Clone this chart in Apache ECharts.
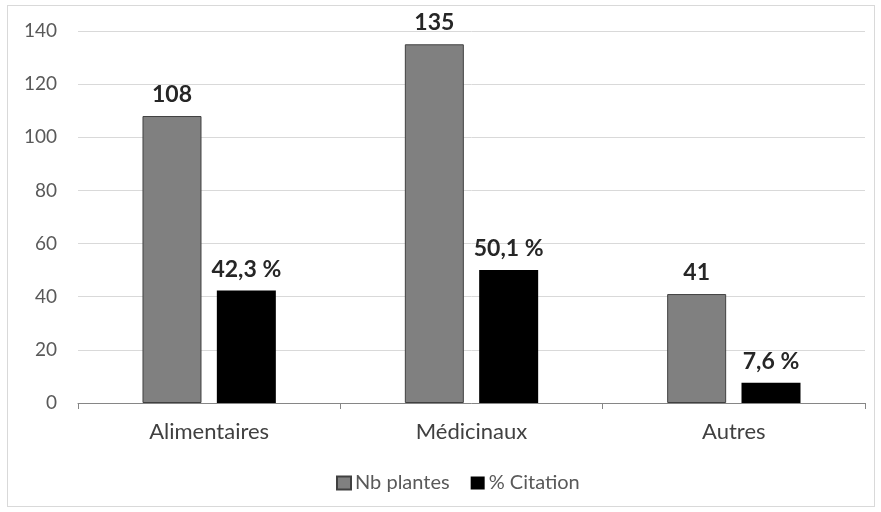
<!DOCTYPE html>
<html><head><meta charset="utf-8">
<script src="https://cdn.jsdelivr.net/npm/echarts@6/dist/echarts.min.js"></script>
<style>html,body{margin:0;padding:0;background:#fff}#c{width:881px;height:512px}
#frame{position:absolute;left:7px;top:5px;width:868px;height:502px;border:1px solid #d9d9d9;box-sizing:border-box;pointer-events:none}</style>
</head><body><div id="c"></div><div id="frame"></div>
<script>
const categories = ['Alimentaires', 'Médicinaux', 'Autres'];
const nbPlantes = [108, 135, 41];
const pctCitation = [42.3, 50.1, 7.6];
const yTicks = [0, 20, 40, 60, 80, 100, 120, 140];
const FONT = 'Lato';
const chart = echarts.init(document.getElementById('c'));
chart.setOption({
  animation: false,
  textStyle: { fontFamily: FONT },
  grid: { left: 78, right: 16, top: 31, bottom: 109 },
  legend: {
    top: 468, left: 331, itemWidth: 14, itemHeight: 13, itemGap: 21,
    textStyle: { fontFamily: FONT, fontSize: 20, color: '#595959', padding: [0, 0, 0, -1] },
    data: [{ name: 'Nb plantes', icon: 'rect' }, { name: '% Citation', icon: 'rect' }]
  },
  xAxis: {
    type: 'category', data: categories,
    axisLine: { lineStyle: { color: '#868686', width: 1 } },
    axisTick: { show: true, length: 6, lineStyle: { color: '#868686' } },
    axisLabel: { fontSize: 22, color: '#404040', margin: 18, fontFamily: FONT }
  },
  yAxis: {
    type: 'value', min: yTicks[0], max: yTicks[yTicks.length - 1], interval: 20,
    axisLine: { show: false }, axisTick: { show: false },
    axisLabel: { fontSize: 19, color: '#595959', margin: 21, fontFamily: FONT },
    splitLine: { lineStyle: { color: '#d9d9d9', width: 1 } }
  },
  series: [
    {
      name: 'Nb plantes', type: 'bar', data: nbPlantes,
      barWidth: 59, barGap: '26%',
      itemStyle: { color: '#808080', borderColor: '#404040', borderWidth: 1 },
      label: { show: true, position: 'top', distance: 10, fontSize: 23, fontWeight: 'bold', color: '#262626', fontFamily: FONT }
    },
    {
      name: '% Citation', type: 'bar', data: pctCitation,
      barWidth: 59,
      itemStyle: { color: '#000000' },
      label: { show: true, position: 'top', distance: 10, fontSize: 23, fontWeight: 'bold', color: '#262626', fontFamily: FONT,
        formatter: p => String(p.value).replace('.', ',') + ' %' }
    }
  ]
});
</script></body></html>
